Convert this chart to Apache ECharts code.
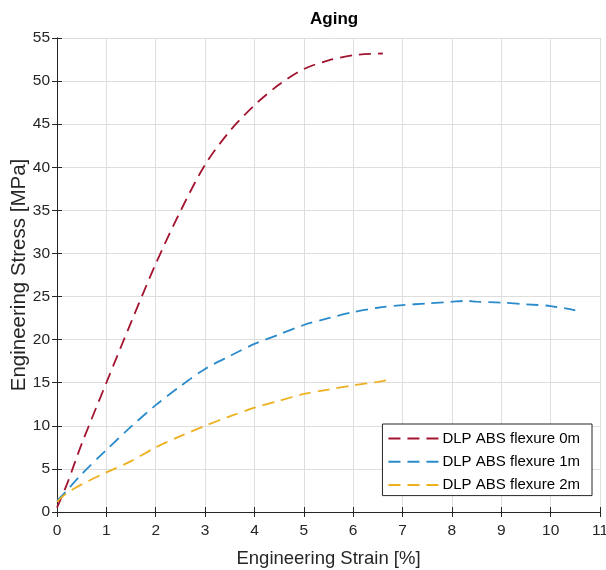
<!DOCTYPE html>
<html>
<head>
<meta charset="utf-8">
<script src="https://cdn.jsdelivr.net/npm/echarts@6/dist/echarts.min.js"></script>
<style>
  html, body { margin: 0; padding: 0; background: #fff; }
  #chart { width: 606px; height: 570px; }
</style>
</head>
<body>
<div id="chart"></div>
<script>
// strain [%] and stress [MPa]
var strain0m = [0, 0.2, 0.5, 1, 1.5, 2, 2.5, 3, 3.5, 4, 4.5, 5, 5.5, 6, 6.6];
var stress0m = [0.5, 3.2, 7.9, 15.0, 22.0, 28.8, 34.9, 40.3, 44.2, 47.2, 49.6, 51.4, 52.4, 53.0, 53.2];

var strain1m = [0, 0.2, 0.5, 1, 1.5, 2, 2.5, 3, 3.5, 4, 4.5, 5, 5.5, 6, 6.5, 7, 7.5, 8, 8.3, 8.5, 9, 9.5, 10, 10.5];
var stress1m = [1.3, 2.5, 4.4, 7.2, 9.9, 12.4, 14.6, 16.6, 18.1, 19.5, 20.6, 21.7, 22.5, 23.2, 23.7, 24.0, 24.2, 24.4, 24.5, 24.4, 24.3, 24.1, 23.9, 23.4];

var strain2m = [0, 0.2, 0.5, 1, 1.5, 2, 2.5, 3, 3.5, 4, 4.5, 5, 5.5, 6, 6.5, 6.7];
var stress2m = [1.2, 2.2, 3.2, 4.6, 5.9, 7.5, 8.8, 10.0, 11.1, 12.1, 12.9, 13.7, 14.2, 14.7, 15.1, 15.3];

var seriesNames = ['DLP ABS flexure 0m', 'DLP ABS flexure 1m', 'DLP ABS flexure 2m'];
var seriesColors = ['#A2142F', '#2A8BCB', '#EDB120'];

function pairs(xs, ys) {
  return xs.map(function (x, i) { return [x, ys[i]]; });
}

var chart = echarts.init(document.getElementById('chart'));
var axisColor = '#262626';
var font = 'Liberation Sans, Arial, sans-serif';

function makeSeries(i, xs, ys) {
  return {
    name: seriesNames[i],
    type: 'line',
    data: pairs(xs, ys),
    smooth: 0.3,
    showSymbol: false,
    symbol: 'none',
    color: seriesColors[i],
    lineStyle: { width: 1.8, type: [12, 7], color: seriesColors[i] }
  };
}

var option = {
  animation: false,
  title: {
    text: 'Aging',
    left: 305,
    top: 6,
    textStyle: { fontFamily: font, fontSize: 17, fontWeight: 'bold', color: '#000' }
  },
  grid: { left: 57, right: 6, top: 38, bottom: 58, outerBoundsMode: 'none', containLabel: false },
  legend: {
    orient: 'vertical',
    right: 14,
    top: 424,
    itemWidth: 50,
    itemHeight: 12,
    itemGap: 8.3,
    padding: [7, 12, 3, 5],
    backgroundColor: '#fff',
    borderColor: axisColor,
    borderWidth: 1,
    borderRadius: 0,
    itemStyle: { opacity: 0 },
    lineStyle: { width: 2 },
    textStyle: { fontFamily: font, fontSize: 15, color: '#000', padding: [0, 0, 0, -1] },
    data: seriesNames
  },
  xAxis: [{
    type: 'value', min: 0, max: 11, interval: 1,
    name: 'Engineering Strain [%]', nameLocation: 'middle', nameGap: 37,
    nameMoveOverlap: false,
    nameTextStyle: { fontFamily: font, fontSize: 18.5, color: axisColor },
    axisLine: { lineStyle: { color: axisColor, width: 1 } },
    axisTick: { inside: true, length: 5, lineStyle: { color: axisColor } },
    axisLabel: { fontFamily: font, fontSize: 15.5, color: axisColor, margin: 11 },
    splitLine: { show: true, lineStyle: { color: '#dedede', width: 1 } }
  }, {
    type: 'value', min: 0, max: 11, interval: 1, position: 'top',
    axisLine: { show: true, lineStyle: { color: axisColor, width: 1 } },
    axisTick: { show: true, inside: true, length: 5, lineStyle: { color: axisColor } },
    axisLabel: { show: false },
    splitLine: { show: false }
  }],
  yAxis: [{
    type: 'value', min: 0, max: 55, interval: 5,
    name: 'Engineering Stress [MPa]', nameLocation: 'middle', nameGap: 27,
    nameMoveOverlap: false,
    nameTextStyle: { fontFamily: font, fontSize: 20.5, color: axisColor },
    axisLine: { show: true, lineStyle: { color: axisColor, width: 1 } },
    axisTick: { show: true, inside: true, length: 5, lineStyle: { color: axisColor } },
    axisLabel: { fontFamily: font, fontSize: 15.5, color: axisColor, margin: 7 },
    splitLine: { show: true, lineStyle: { color: '#dedede', width: 1 } }
  }, {
    type: 'value', min: 0, max: 55, interval: 5, position: 'right',
    axisLine: { show: true, lineStyle: { color: axisColor, width: 1 } },
    axisTick: { show: true, inside: true, length: 5, lineStyle: { color: axisColor } },
    axisLabel: { show: false },
    splitLine: { show: false }
  }],
  series: [
    makeSeries(0, strain0m, stress0m),
    makeSeries(1, strain1m, stress1m),
    makeSeries(2, strain2m, stress2m)
  ]
};

chart.setOption(option);
</script>
</body>
</html>
